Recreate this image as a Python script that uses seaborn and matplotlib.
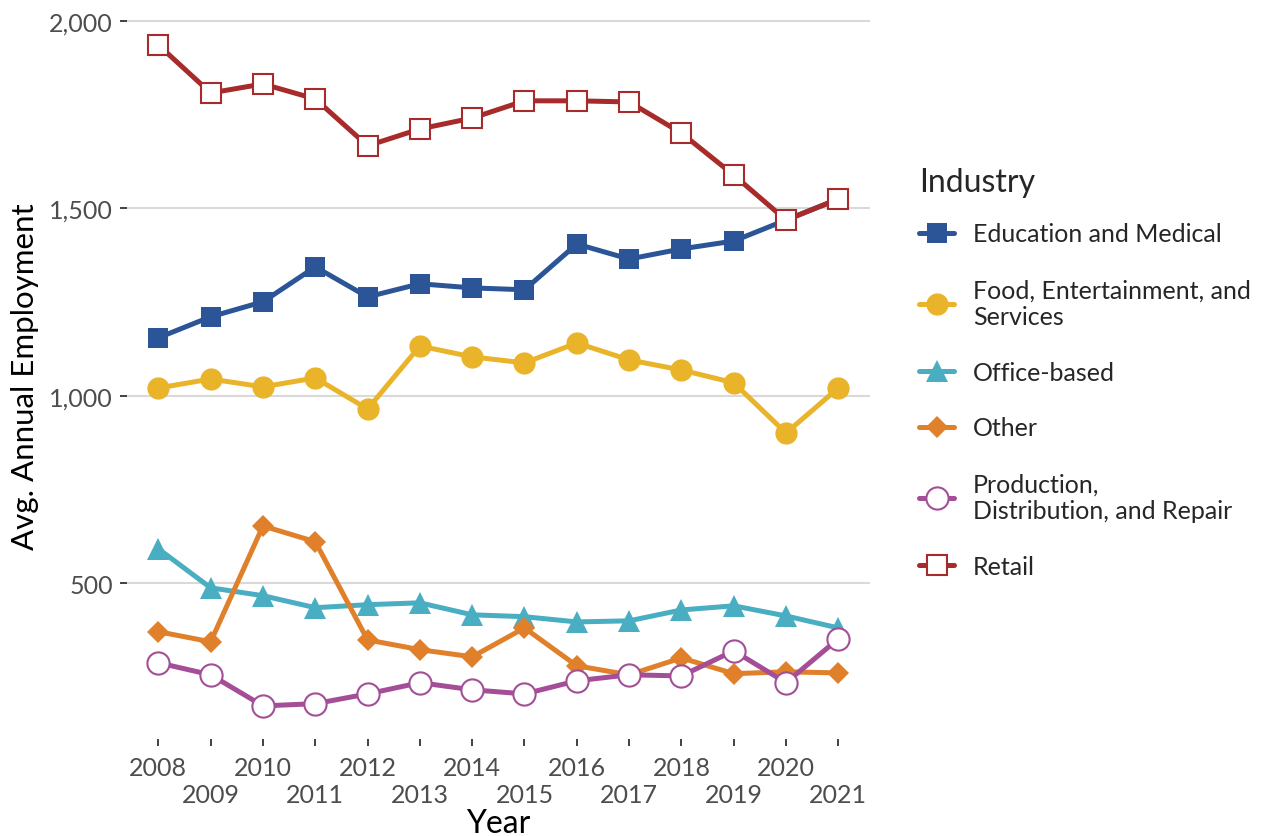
import numpy as np
import pandas as pd
import matplotlib
matplotlib.use("Agg")
import matplotlib.pyplot as plt
import seaborn as sns
from matplotlib.ticker import FuncFormatter

# =========================
# DATA
# =========================

years = list(range(2008, 2022))

education = [1155, 1211, 1251, 1344, 1264, 1299, 1288, 1283, 1405, 1365, 1392, 1413, 1469, 1525]
food = [1021, 1045, 1024, 1048, 965, 1133, 1104, 1088, 1141, 1096, 1069, 1035, 901, 1021]
office = [592, 488, 467, 435, 443, 448, 416, 411, 397, 400, 429, 440, 413, 381]
other = [371, 344, 653, 611, 349, 323, 304, 381, 280, 256, 301, 259, 264, 261]
production = [288, 256, 173, 179, 205, 235, 216, 205, 240, 256, 253, 320, 235, 352]
retail = [1936, 1808, 1832, 1792, 1667, 1712, 1741, 1787, 1787, 1784, 1701, 1589, 1469, 1525]

labels = [
    "Education and Medical",
    "Food, Entertainment, and\nServices",
    "Office-based",
    "Other",
    "Production,\nDistribution, and Repair",
    "Retail",
]
series = [education, food, office, other, production, retail]
colors = ["#2B5597", "#EAB42A", "#49AEC1", "#E0802A", "#A34E97", "#A82B2B"]
markers = ["s", "o", "^", "D", "o", "s"]
msizes = [14, 16, 16, 11, 16, 15]
hollow = [False, False, False, False, True, True]

# =========================
# STYLE
# =========================

sns.set_theme(style="white")
plt.rcParams["font.family"] = ["Lato", "DejaVu Sans"]

fig = plt.figure(figsize=(12.61, 8.37), dpi=100)
ax = fig.add_axes([0.1007, 0.116, 0.589, 0.8685])

# =========================
# LINES
# =========================

for vals, lab, c, m, ms, h in zip(series, labels, colors, markers, msizes, hollow):
    df = pd.DataFrame({"Year": years, "Value": vals})
    sns.lineplot(
        data=df, x="Year", y="Value", ax=ax,
        color=c, linewidth=3.6, marker=m, markersize=ms,
        markerfacecolor="white" if h else c,
        markeredgecolor=c, markeredgewidth=1.5 if h else 0,
        label=lab, legend=False,
    )

# =========================
# AXES
# =========================

ax.set_xlim(2008 - 0.6, 2021 + 0.6)
ax.set_ylim(85, 2024)
ax.set_yticks([500, 1000, 1500, 2000])
ax.yaxis.set_major_formatter(FuncFormatter(lambda v, p: f"{int(v):,}"))

# even years on the first row, odd years dodged to a second row
even_years = years[0::2]
odd_years = years[1::2]
ax.set_xticks(even_years)
ax.set_xticklabels([str(y) for y in even_years])
ax.set_xticks(odd_years, minor=True)
ax.set_xticklabels([str(y) for y in odd_years], minor=True)

ax.grid(axis="y", color="#d9d9d9", linewidth=1.5)
ax.grid(axis="x", visible=False)
ax.set_axisbelow(True)
for s in ax.spines.values():
    s.set_visible(False)

ax.tick_params(axis="both", which="both", length=5, width=1.3, color="#333333",
               labelsize=18, labelcolor="#4d4d4d", pad=5, left=True, bottom=True)
ax.tick_params(axis="y", which="minor", left=False)
ax.tick_params(axis="x", which="major", pad=7)
ax.tick_params(axis="x", which="minor", pad=27)

ax.set_xlabel("Year", fontsize=23, color="black", labelpad=1)
ax.set_ylabel("Avg. Annual Employment", fontsize=22.5, color="black", labelpad=7)

# =========================
# LEGEND
# =========================

leg = ax.legend(
    title="Industry", loc="upper left", bbox_to_anchor=(1.053, 0.80),
    frameon=False, fontsize=18, title_fontsize=23,
    handlelength=1.4, labelspacing=1.31, handletextpad=0.75,
    borderaxespad=0,
)
leg._legend_box.align = "left"
leg._legend_box.sep = 18

fig.savefig("out.png", dpi=100)
